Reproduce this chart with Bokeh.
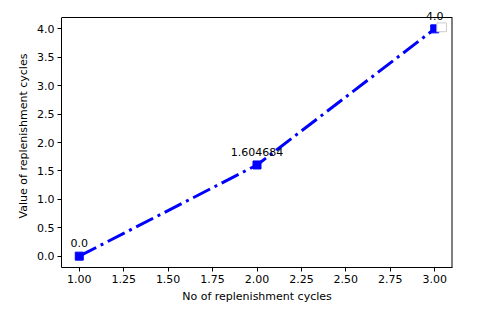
from bokeh.plotting import figure
from bokeh.models import FixedTicker, NumeralTickFormatter, ColumnDataSource, LabelSet
from bokeh.embed import file_html
from bokeh.resources import INLINE
from bokeh.core.properties import value

cycles = [1, 2, 3]
values = [0.0, 1.604684, 4.0]
labels = ["0.0", "1.604684", "4.0"]
x_ticks = [1.0, 1.25, 1.5, 1.75, 2.0, 2.25, 2.5, 2.75, 3.0]
y_ticks = [0.0, 0.5, 1.0, 1.5, 2.0, 2.5, 3.0, 3.5, 4.0]

X0, X1 = 0.9, 3.1
Y0, Y1 = -0.2, 4.2
EXTRA = 13  # px of free space above the axes box for the point labels
Y1_VIEW = Y1 + EXTRA * (Y1 - Y0) / 250

src = ColumnDataSource(dict(x=cycles, y=values, t=labels))

p = figure(frame_width=391, frame_height=250 + EXTRA, output_backend="svg", toolbar_location=None,
           x_range=(X0, X1), y_range=(Y0, Y1_VIEW),
           min_border_left=61, min_border_right=18, min_border_top=4, min_border_bottom=30)
p.grid.visible = False
p.outline_line_color = None

# axes box (top and right spines)
p.segment(x0=[X0], y0=[Y1], x1=[X1], y1=[Y1], line_color="black", line_width=1)
p.segment(x0=[X1], y0=[Y0], x1=[X1], y1=[Y1], line_color="black", line_width=2)

p.line("x", "y", source=src, line_color="blue", line_width=3, line_dash="19 5 3 5")
p.scatter("x", "y", source=src, marker="square", size=8, fill_color="blue", line_color="blue")

labs = LabelSet(x="x", y="y", text="t", source=src, text_align="center", text_baseline="bottom",
                y_offset=9, text_font=value("DejaVu Sans"), text_font_size=value("11px"),
                text_color=value("black"))
p.add_layout(labs)

# small empty legend box at upper right
p.quad(left=[3.012], right=[3.066], bottom=[3.95], top=[4.105], fill_color="white",
       line_color="#cccccc", line_width=1)

p.xaxis.ticker = FixedTicker(ticks=x_ticks)
p.yaxis.ticker = FixedTicker(ticks=y_ticks)
p.yaxis.bounds = (Y0, Y1)
p.xaxis.formatter = NumeralTickFormatter(format="0.00")
p.yaxis.formatter = NumeralTickFormatter(format="0.0")
p.xaxis.axis_label = "No of replenishment cycles"
p.yaxis.axis_label = "Value of replenishment cycles"
for ax in (p.xaxis, p.yaxis):
    ax.axis_label_text_font = "DejaVu Sans"
    ax.axis_label_text_font_size = "11px"
    ax.axis_label_text_font_style = "normal"
    ax.axis_label_text_color = "black"
    ax.major_label_text_font = "DejaVu Sans"
    ax.major_label_text_font_size = "11px"
    ax.major_label_text_color = "black"
    ax.minor_tick_line_color = None
    ax.major_tick_in = 0
    ax.major_tick_out = 4
    ax.axis_line_color = "black"
    ax.major_tick_line_color = "black"
    ax.axis_label_standoff = 4
    ax.major_label_standoff = 3

open("out.html", "w").write(file_html(p, INLINE))
